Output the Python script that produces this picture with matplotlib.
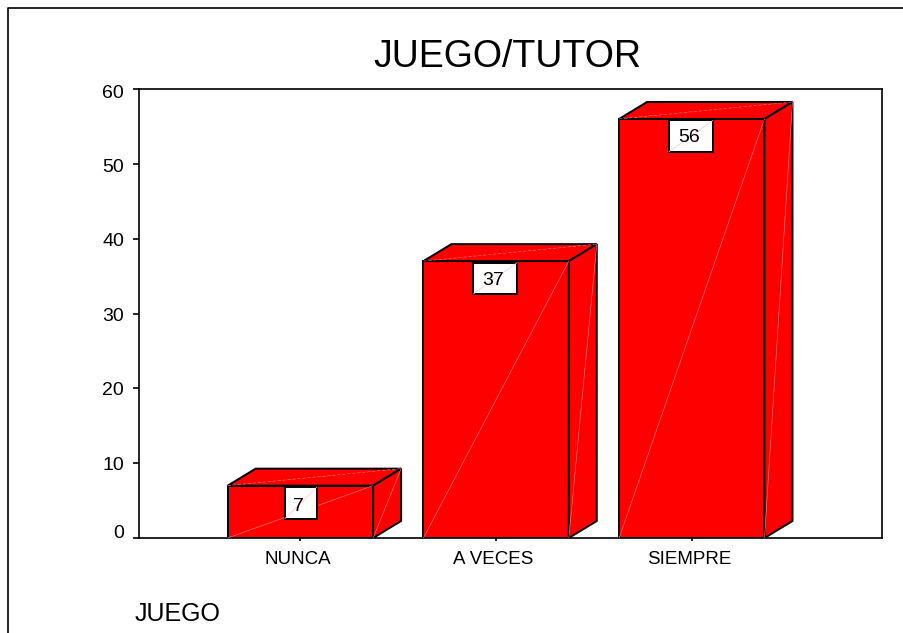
import matplotlib
matplotlib.use("Agg")
import matplotlib.pyplot as plt
from matplotlib.lines import Line2D
from matplotlib.patches import Polygon, Rectangle
from matplotlib.transforms import Affine2D

categories = ['NUNCA', 'A VECES', 'SIEMPRE']
counts = [7, 37, 56]
y_ticks = [0, 10, 20, 30, 40, 50, 60]

plt.rcParams['font.family'] = ['Liberation Sans', 'DejaVu Sans']

W, H = 904, 633
fig = plt.figure(figsize=(W / 100, H / 100), dpi=100)
ax = fig.add_axes([139 / W, 1 - 538 / H, (882 - 139) / W, (538 - 89) / H])
ax.set_xlim(0.175, 3.972)
ax.set_ylim(0, 60)

RED = '#ff0000'
HAIR = '#ff8c8c'
BAR_W = 0.743
DX, DY = 0.143, 2.27

# fake 3d boxes
for i, val in enumerate(counts):
    x0 = i + 1 - BAR_W / 2
    x1 = i + 1 + BAR_W / 2
    front = [(x0, 0), (x1, 0), (x1, val), (x0, val)]
    top = [(x0, val), (x1, val), (x1 + DX, val + DY), (x0 + DX, val + DY)]
    side = [(x1, 0), (x1 + DX, DY), (x1 + DX, val + DY), (x1, val)]
    for pts in (front, top, side):
        ax.add_patch(Polygon(pts, closed=True, fc=RED, ec='black', lw=1.4,
                             joinstyle='miter', zorder=3))
    # thin light seams across each face
    ax.plot([x0, x1], [0, val], color=HAIR, lw=0.4, zorder=4)
    ax.plot([x0, x1 + DX], [val, val + DY], color=HAIR, lw=0.4, ls=(0, (6, 3)), zorder=4)
    ax.plot([x1, x1 + DX], [0, val + DY], color=HAIR, lw=0.4, zorder=4)

    # value box hangs just under the top edge, narrower for one digit
    px, py = ax.transData.transform((i + 1, val))
    one_digit = val < 10
    box_w = 32 if one_digit else 44
    box_x = px - box_w / 2 + (0.5 if one_digit else -1)
    ax.add_patch(Rectangle((box_x, py - 33), box_w, 31.5, transform=None,
                           fc='white', ec='black', lw=1.4, zorder=5))
    ax.add_line(Line2D([box_x, box_x + box_w], [py - 33, py - 1.5], transform=None,
                       color='#ffc4c4', lw=0.5, zorder=6))
    ax.annotate(str(val), xy=(i + 1, val), xytext=(-1.5 if one_digit else -3, -21 if one_digit else -19),
                textcoords='offset pixels', ha='center', va='center',
                fontsize=14, color='black', zorder=7)

ax.set_xticks([1, 2, 3])
ax.set_xticklabels(categories, fontsize=13.5)
ax.set_yticks(y_ticks)
ax.tick_params(axis='y', labelsize=14, length=4.3, width=1.2, pad=6.5)
ax.tick_params(axis='x', length=2.4, width=1.2, pad=7)
for s in ax.spines.values():
    s.set_linewidth(1.2)

# labels in the original sit a little off their ticks
for lab in ax.get_xticklabels():
    lab.set_transform(lab.get_transform() + Affine2D().translate(-2.5, 0))
for lab, dy in zip(ax.get_yticklabels(), [7, 0, 0, -1, -1, -2, -2]):
    lab.set_transform(lab.get_transform() + Affine2D().translate(0, dy))

fig.text(507 / W, 1 - 57 / H, 'JUEGO/TUTOR', ha='center', va='center', fontsize=27)
fig.text(135 / W, 1 - 614 / H, 'JUEGO', ha='left', va='center', fontsize=18)

# outer chart frame, only top and left are inside the picture
fig.add_artist(Line2D([7.5 / W, 7.5 / W, 1], [0, 1 - 8 / H, 1 - 8 / H],
                      transform=fig.transFigure, color='black', lw=1.2))

fig.savefig('out.png', dpi=100)
